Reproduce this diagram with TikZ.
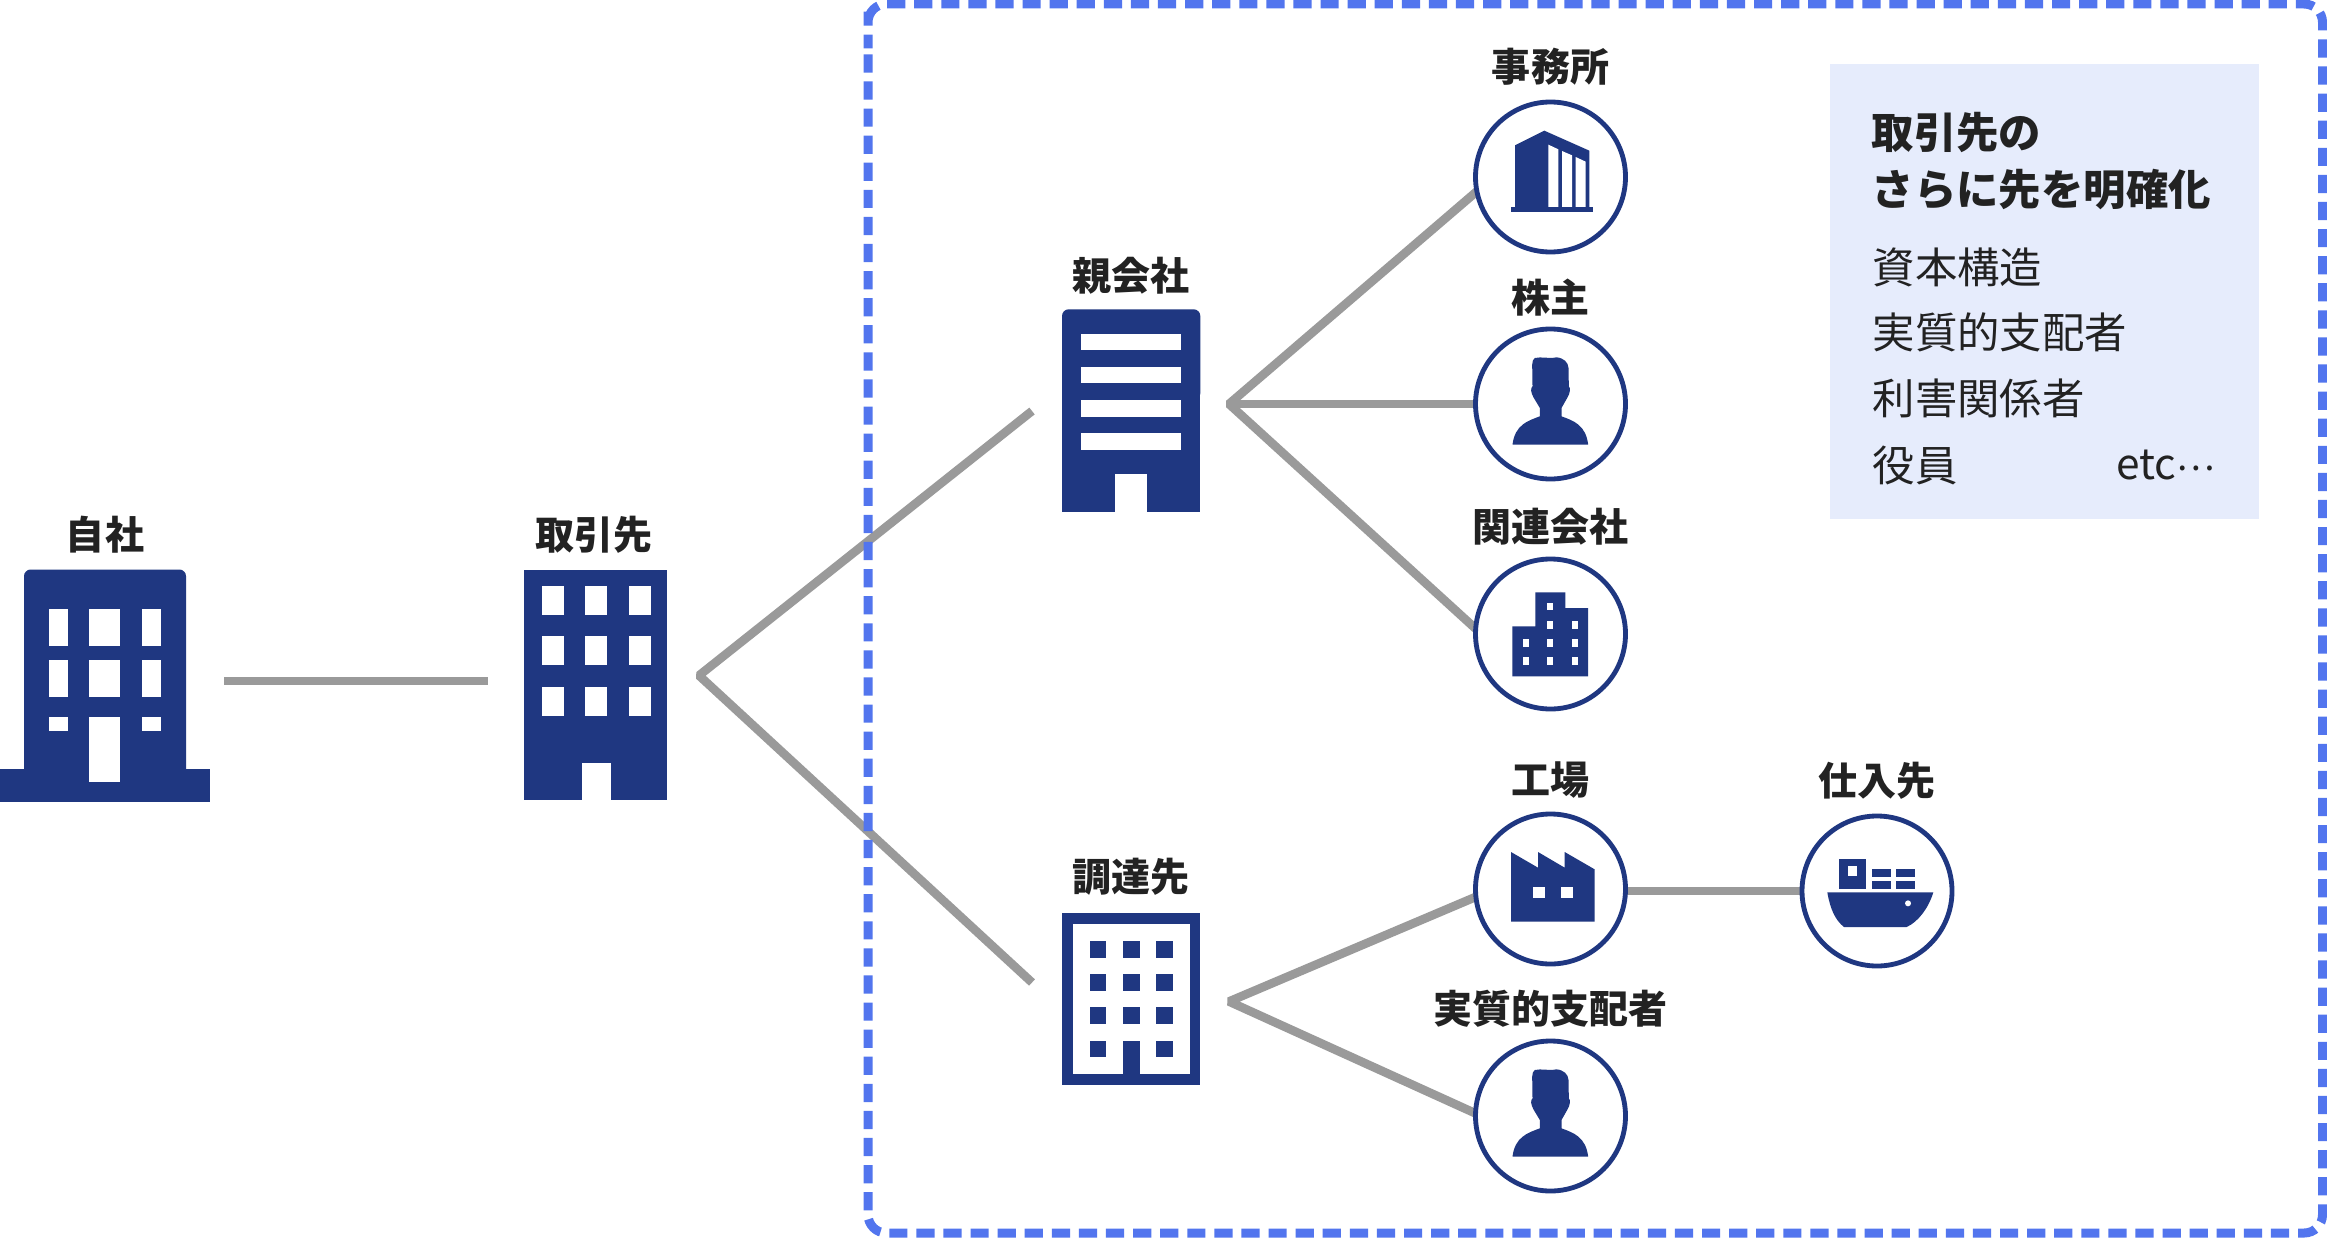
\documentclass[tikz,border=0pt]{standalone}
\usepackage{fontspec}
\setmainfont{Noto Sans CJK JP}
\pgfdeclarelayer{pagebg}
\pgfdeclarelayer{lines}
\pgfsetlayers{pagebg,lines,main}
\definecolor{navy}{HTML}{1F3781}
\definecolor{lineg}{HTML}{9A9A9A}
\definecolor{dashb}{HTML}{5275EE}
\definecolor{panel}{HTML}{E6ECFC}
\definecolor{ink}{HTML}{222222}
\tikzset{
  icon/.style={fill=navy,draw=none},
  hole/.style={fill=white,draw=none},
  conn/.style={draw=lineg,line width=.26cm,line join=bevel},
  circ/.style={circle,draw=navy,fill=white,line width=.145cm,minimum size=4.5cm,inner sep=0pt,outer sep=0pt},
  lab/.style={text=ink,font=\fontsize{33.3}{40}\selectfont\bfseries,inner sep=0pt},
  headt/.style={text=ink,font=\fontsize{36.2}{44}\selectfont\bfseries,inner sep=0pt,anchor=west},
  bodyt/.style={text=ink,font=\fontsize{36.2}{44}\selectfont,inner sep=0pt,anchor=west},
}
\newcommand{\personicon}[1]{%
  \begin{scope}[shift={(#1.center)},scale=1/3,shift={(-272,-1093)}]
    \fill[navy] (225,955) .. controls (245,950) and (265,958) .. (290,953)
      .. controls (312,955) and (325,968) .. (326,985) -- (327,1040)
      .. controls (333,1045) and (331,1060) .. (322,1075) -- (305,1105) -- (305,1130)
      .. controls (340,1143) and (378,1155) .. (385,1215) -- (158,1215)
      .. controls (165,1155) and (205,1143) .. (240,1130) -- (240,1105)
      -- (222,1075) .. controls (213,1060) and (211,1045) .. (218,1040)
      -- (217,975) .. controls (217,965) and (220,958) .. (225,955) -- cycle;
  \end{scope}}
\begin{document}
\begin{tikzpicture}[x=0.03cm,y=-0.03cm]
\useasboundingbox (0,0) rectangle (2327,1238);
\begin{pgfonlayer}{pagebg}
\fill[white] (0,0) rectangle (2327,1238);
\end{pgfonlayer}

% dashed frame
\draw[dashb,line width=.27cm,dash pattern=on .546cm off .2667cm,dash phase=.6327cm,rounded corners=.55cm]
  (868,30) -- (868,1233) -- (2322.5,1233) -- (2322.5,4) -- (868,4) -- cycle;

% panel
\fill[panel] (1830,64) rectangle (2259,519);
\node[headt] (h1) at (1871.5,132) {取引先の};
\node[headt] (h2) at (1871.5,190) {さらに先を明確化};
\node[bodyt] (b1) at (1872.5,267) {資本構造};
\node[bodyt] (b2) at (1872.5,332) {実質的支配者};
\node[bodyt] (b3) at (1872.5,398) {利害関係者};
\node[bodyt] (b4) at (1872.5,465) {役員};
\node[text=ink,font=\fontsize{36.2}{44}\selectfont,inner sep=0pt,anchor=east] (b5) at (2215,465) {etc\raisebox{.22em}{\fontsize{31}{31}\selectfont …}};

% labels
\node[lab] (l1) at (105,535) {自社};
\node[lab] (l2) at (594,535) {取引先};
\node[lab] (l3) at (1131,276) {親会社};
\node[lab] (l4) at (1131,877) {調達先};
\node[lab] (l5) at (1550.5,67) {事務所};
\node[lab] (l6) at (1550.5,298) {株主};
\node[lab] (l7) at (1550.5,527) {関連会社};
\node[lab] (l8) at (1550.5,780.5) {工場};
\node[lab] (l9) at (1550.5,1008.5) {実質的支配者};
\node[lab] (l10) at (1877,780.5) {仕入先};

% circles
\node[circ] (c1) at (1550.5,177) {};
\node[circ] (c2) at (1550.5,404) {};
\node[circ] (c3) at (1550.5,634) {};
\node[circ] (c4) at (1550.5,889) {};
\node[circ] (c5) at (1550.5,1116) {};
\node[circ] (c6) at (1877,891) {};

% connector points
\coordinate (a1) at (224,681);
\coordinate (a2) at (488,681);
\coordinate (v0) at (699,675.5);
\coordinate (e1) at (1032,411);
\coordinate (e2) at (1032,982.5);
\coordinate (v1) at (1229,404);
\coordinate (v2) at (1229,1001.5);

\begin{pgfonlayer}{lines}
\draw[conn] (a1) -- (a2);
\draw[conn] (e1) -- (v0) -- (e2);
\draw[conn] (c1.191) -- (v1) -- (c3.176);
\draw[conn] (v1) -- (c2.west);
\draw[conn] (c4.186) -- (v2) -- (c5.178);
\draw[conn] (c4.east |- c6.west) -- (c6.west);
\end{pgfonlayer}

% jisha building
\fill[icon,rounded corners=.2cm] (24,569.5) -- (186,569.5) -- (186,790) -- (24,790) -- cycle;
\fill[icon] (24,700) rectangle (186,790);
\fill[icon] (0,769) rectangle (209.5,801.5);
\foreach \ya/\yb in {609/645.5,660/696.5,716.7/731.3}{
  \fill[hole] (49,\ya) rectangle (67.5,\yb);
  \fill[hole] (142,\ya) rectangle (161,\yb);
}
\fill[hole] (89,609) rectangle (120,645.5);
\fill[hole] (89,660) rectangle (120,696.5);
\fill[hole] (89,716.7) rectangle (120,781.7);

% torihikisaki building
\fill[icon] (524,569.5) rectangle (667,799.5);
\foreach \ya/\yb in {586.3/615,636.3/665,687/715.7}{
  \foreach \xa/\xb in {542/564,585.4/607,628.5/650.6}{
    \fill[hole] (\xa,\ya) rectangle (\xb,\yb);
  }
}
\fill[hole] (581.7,763.3) rectangle (610.6,799.6);

% parent company building
\fill[icon,rounded corners=.2cm] (1062,309.3) -- (1200.3,309.3) -- (1200.3,400) -- (1062,400) -- cycle;
\fill[icon] (1062,380) rectangle (1200.3,511.7);
\foreach \ya/\yb in {334/350,367/383.3,400.3/416.7,433.3/450}{
  \fill[hole] (1081.3,\ya) rectangle (1180.7,\yb);
}
\fill[hole] (1114.7,474.3) rectangle (1147.3,511.8);

% supplier building
\fill[icon] (1062,913.3) rectangle (1200.3,1085);
\fill[hole] (1073.3,924.3) rectangle (1189.7,1074);
\foreach \ya/\yb in {941/957.7,974.3/991,1007.3/1024,1040.7/1057.3}{
  \foreach \xa/\xb in {1089.7/1106.3,1123/1139.7,1156.3/1173}{
    \fill[icon] (\xa,\ya) rectangle (\xb,\yb);
  }
}
\fill[icon] (1123,1040.7) rectangle (1139.7,1074);

% office icon
\begin{scope}[shift={(1460,40)},scale=1/3]
  \fill[icon] (153,501) rectangle (399,516);
  \fill[icon] (165,316) -- (253,272) -- (388,332) -- (388,505) -- (165,505) -- cycle;
  \fill[hole] (265,314) -- (295,328) -- (295,501) -- (265,501) -- cycle;
  \fill[hole] (306,333) -- (336,346) -- (336,501) -- (306,501) -- cycle;
  \fill[hole] (347,351) -- (377,365) -- (377,501) -- (347,501) -- cycle;
\end{scope}

% persons
\personicon{c2}
\personicon{c5}

% group building icon
\begin{scope}[shift={(1460,540)},scale=1/3]
  \fill[icon] (157,259) -- (226,259) -- (226,157) -- (316,157) -- (316,204) -- (384,204) -- (384,409) -- (157,409) -- cycle;
  \foreach \cx/\cy in {271/200,271/255,344/255,198/309,271/309,344/309,198/363,271/363,344/363}{
    \fill[hole] (\cx-9,\cy-11) rectangle (\cx+9,\cy+11);
  }
\end{scope}

% factory icon
\begin{scope}[shift={(1460,800)},scale=1/3]
  \fill[icon] (153,156) -- (234,203) -- (234,156) -- (314,203) -- (314,156) -- (404,208) -- (404,365) -- (153,365) -- cycle;
  \fill[hole] (220,260) rectangle (255,294);
  \fill[hole] (303,260) rectangle (338,294);
\end{scope}

% ship icon
\begin{scope}[shift={(1780,840)},scale=1/3]
  \fill[icon] (178,58) rectangle (258,146);
  \fill[hole] (205,79) rectangle (232,107);
  \fill[icon] (277,86) rectangle (332,110);
  \fill[icon] (348,86) rectangle (404,110);
  \fill[icon] (277,122) rectangle (332,146);
  \fill[icon] (348,122) rectangle (404,146);
  \fill[icon] (142,157) -- (460,157) .. controls (445,205) and (415,245) .. (380,261) -- (192,261) .. controls (165,240) and (150,205) .. (142,157) -- cycle;
  \fill[hole] (384,190) circle (9);
\end{scope}
\end{tikzpicture}
\end{document}
